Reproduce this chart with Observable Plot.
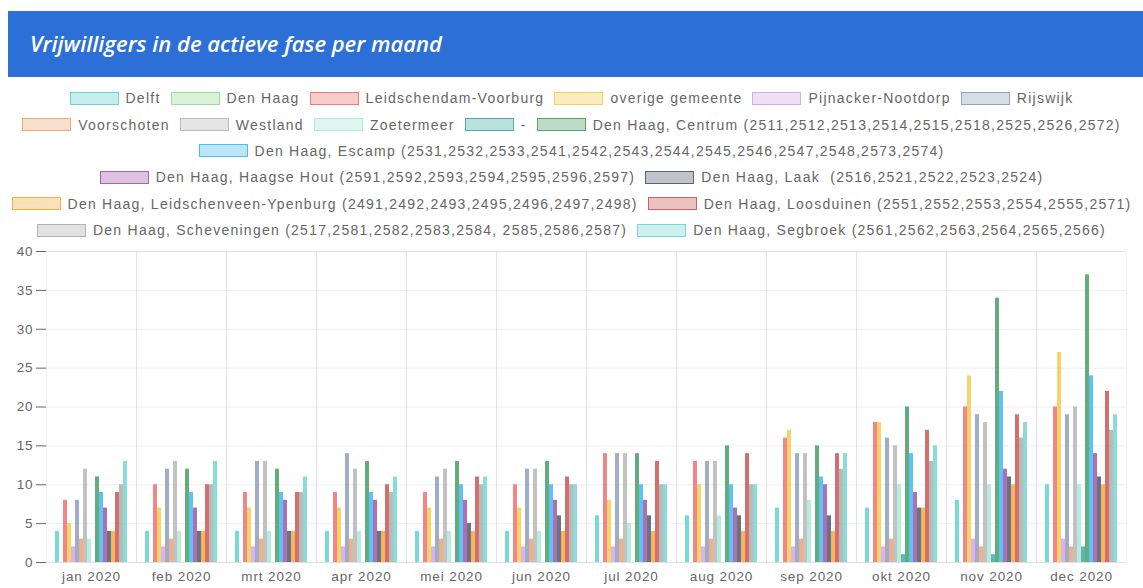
<!DOCTYPE html>
<html>
<head>
<meta charset="utf-8">
<script src="https://cdn.jsdelivr.net/npm/d3@7"></script>
<script src="https://cdn.jsdelivr.net/npm/@observablehq/plot@0.6"></script>
<style>
  html, body { margin: 0; padding: 0; background: #fff; }
  body { width: 1143px; height: 588px; position: relative; overflow: hidden; font-family: "Liberation Sans", Arial, sans-serif; }
  #header { position: absolute; left: 8px; top: 11px; width: 1135px; height: 66px; background: #2c6fd6; }
  #header span { position: absolute; left: 22px; top: 0; line-height: 64px; color: #fff; font-family: "Open Sans", sans-serif; font-style: italic; font-weight: 600; font-size: 22px; }
  #legend { position: absolute; left: 0; top: 85px; width: 1143px; }
  .row { display: flex; justify-content: center; align-items: center; height: 26.4px; }
  .item { display: flex; align-items: center; margin: 0 5px; }
  .box { width: 47px; height: 11px; border-width: 1.5px; border-style: solid; margin-right: 7px; }
  .lbl { font-size: 14px; color: #666; letter-spacing: 1.25px; white-space: pre; }
  #chart { position: absolute; left: 0; top: 240px; }
</style>
</head>
<body>
<div id="header"><span>Vrijwilligers in de actieve fase per maand</span></div>
<div id="legend"></div>
<div id="chart"></div>
<script>
const months = ["jan 2020","feb 2020","mrt 2020","apr 2020","mei 2020","jun 2020","jul 2020","aug 2020","sep 2020","okt 2020","nov 2020","dec 2020"];

const seriesNames = [
  "Delft",
  "Den Haag",
  "Leidschendam-Voorburg",
  "overige gemeente",
  "Pijnacker-Nootdorp",
  "Rijswijk",
  "Voorschoten",
  "Westland",
  "Zoetermeer",
  "-",
  "Den Haag, Centrum (2511,2512,2513,2514,2515,2518,2525,2526,2572)",
  "Den Haag, Escamp (2531,2532,2533,2541,2542,2543,2544,2545,2546,2547,2548,2573,2574)",
  "Den Haag, Haagse Hout (2591,2592,2593,2594,2595,2596,2597)",
  "Den Haag, Laak  (2516,2521,2522,2523,2524)",
  "Den Haag, Leidschenveen-Ypenburg (2491,2492,2493,2495,2496,2497,2498)",
  "Den Haag, Loosduinen (2551,2552,2553,2554,2555,2571)",
  "Den Haag, Scheveningen (2517,2581,2582,2583,2584, 2585,2586,2587)",
  "Den Haag, Segbroek (2561,2562,2563,2564,2565,2566)"
];

const seriesColors = [
  "#5ccfcf", "#8edc8e", "#ee6b6b", "#f7c948", "#cfa3e8", "#8a9bbd",
  "#eba06e", "#b4b4b4", "#a6e6dc", "#3aa89e", "#3f9a62", "#3ab4f2",
  "#9c4fa3", "#4a5468", "#f7a535", "#c9504d", "#a9a9a9", "#6fd4cf"
];

const delft        = [4,4,4,4,4,4,6,6,7,7,8,10];
const denHaag      = [0,0,0,0,0,0,0,0,0,0,0,0];
const leidschendam = [8,10,9,9,9,10,14,13,16,18,20,20];
const overige      = [5,7,7,7,7,7,8,10,17,18,24,27];
const pijnacker    = [2,2,2,2,2,2,2,2,2,2,3,3];
const rijswijk     = [8,12,13,14,11,12,14,13,14,16,19,19];
const voorschoten  = [3,3,3,3,3,3,3,3,3,3,2,2];
const westland     = [12,13,13,12,12,12,14,13,14,15,18,20];
const zoetermeer   = [3,4,4,4,4,4,5,6,8,10,10,10];
const streepje     = [0,0,0,0,0,0,0,0,0,1,1,2];
const centrum      = [11,12,12,13,13,13,14,15,15,20,34,37];
const escamp       = [9,9,9,9,10,10,10,10,11,14,22,24];
const haagseHout   = [7,7,8,8,8,8,8,7,10,9,12,14];
const laak         = [4,4,4,4,5,6,6,6,6,7,11,11];
const ypenburg     = [4,4,4,4,4,4,4,4,4,7,10,10];
const loosduinen   = [9,10,9,10,11,11,13,14,14,17,19,22];
const scheveningen = [10,10,9,9,10,10,10,10,12,13,16,17];
const segbroek     = [13,13,11,11,11,10,10,10,14,15,18,19];

const yTicks = [0,5,10,15,20,25,30,35,40];

const seriesValues = [delft, denHaag, leidschendam, overige, pijnacker, rijswijk, voorschoten, westland, zoetermeer, streepje, centrum, escamp, haagseHout, laak, ypenburg, loosduinen, scheveningen, segbroek];

const legendRows = [[0,1,2,3,4,5],[6,7,8,9,10],[11],[12,13],[14,15],[16,17]];

// legend
const legend = document.getElementById("legend");
function hexA(hex, a) {
  const c = d3.color(hex); c.opacity = a; return c.formatRgb();
}
legendRows.forEach(r => {
  const row = document.createElement("div");
  row.className = "row";
  r.forEach(i => {
    const it = document.createElement("div"); it.className = "item";
    const b = document.createElement("div"); b.className = "box";
    b.style.background = hexA(seriesColors[i], 0.35);
    b.style.borderColor = hexA(seriesColors[i], 0.85);
    const t = document.createElement("span"); t.className = "lbl"; t.textContent = seriesNames[i];
    it.appendChild(b); it.appendChild(t); row.appendChild(it);
  });
  legend.appendChild(row);
});

// data table
const data = [];
seriesNames.forEach((s, i) => months.forEach((m, j) => data.push({month: m, series: s, value: seriesValues[i][j]})));

const chart = Plot.plot({
  width: 1143,
  height: 348,
  marginTop: 11,
  marginBottom: 26,
  marginLeft: 43,
  marginRight: 15,
  style: {fontFamily: "Liberation Sans, Arial, sans-serif", fontSize: "13.5px", color: "#666", background: "transparent", letterSpacing: "0.9px"},
  fx: {domain: months, paddingInner: 0, paddingOuter: 0, label: null, axis: "bottom", tickSize: 0, tickPadding: 9},
  x: {domain: seriesNames, paddingInner: 0.1, paddingOuter: 2.3, axis: null},
  y: {domain: [0, 40], ticks: yTicks, tickSize: 10, tickPadding: 3, label: null, grid: true},
  color: {domain: seriesNames, range: seriesColors},
  marks: [
    Plot.frame({stroke: "#000", strokeOpacity: 0.055}),
    Plot.barY(data, {fx: "month", x: "series", y: "value", fill: "series", fillOpacity: 0.82})
  ]
});
document.getElementById("chart").appendChild(chart);
</script>
</body>
</html>
